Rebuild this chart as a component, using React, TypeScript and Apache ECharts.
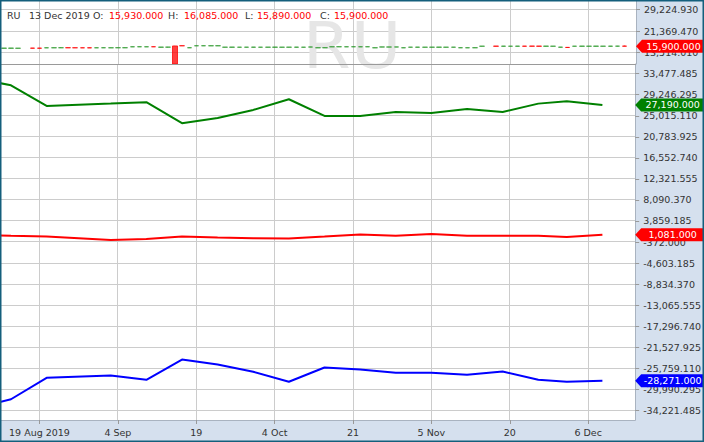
import React, { useEffect, useRef } from 'react';
import * as echarts from 'echarts';

const FONT = "'DejaVu Sans', sans-serif";
const FS = 9.5;

// x unit = trading day, 19 Aug 2019 = 0
const X_MIN = -5.4;
const X_MAX = 83.6;

const dateTickIdx = [0, 11, 22, 33, 44, 55, 66, 77];
const dateTickLabels = ['19 Aug 2019', '4 Sep', '19', '4 Oct', '21', '5 Nov', '20', '6 Dec'];

// upper pane (price) axis
const priceMin = 9385;
const priceMax = 32404;
const priceTicks = [13514.01, 21369.47, 29224.93];

// lower pane axis
const indMin = -36172;
const indMax = 35428;
const indTicks = [
  33477.485, 29246.295, 25015.11, 20783.925, 16552.74, 12321.555, 8090.37, 3859.185, -372.0,
  -4603.185, -8834.37, -13065.555, -17296.74, -21527.925, -25759.11, -29990.295, -34221.485,
];

// daily candles from day index CANDLE_START: [open, close, low, high]
const CANDLE_START = -5;
const ohlc: ([number, number, number, number] | null)[] = [
  [15140, 15190, 15110, 15220], [15150, 15200, 15120, 15230], [15120, 15170, 15090, 15200], null,
  [15200, 15160, 15130, 15230], [15190, 15150, 15120, 15220], [15280, 15320, 15250, 15350],
  [15290, 15330, 15260, 15360], [15320, 15330, 15230, 15420], [15340, 15300, 15270, 15370],
  [15330, 15290, 15260, 15360], [15320, 15280, 15250, 15350], [15310, 15270, 15240, 15340],
  [15290, 15320, 15260, 15350], [15300, 15330, 15270, 15360], [15290, 15320, 15260, 15350],
  [15300, 15340, 15270, 15370], [15310, 15340, 15280, 15370], [15650, 15690, 15620, 15720],
  [15660, 15700, 15630, 15730], [15650, 15690, 15620, 15720], [15700, 15660, 15630, 15730],
  [15520, 15560, 15490, 15590], [15540, 15550, 15450, 15640], [15990, 9400, 9400, 16020],
  [16070, 16030, 16000, 16100], [15300, 15340, 15270, 15370], [16020, 16060, 15990, 16090],
  [16030, 16070, 16000, 16100], [16020, 16060, 15990, 16090], [16030, 16070, 16000, 16100],
  [15510, 15550, 15480, 15580], [15520, 15560, 15490, 15590], [15500, 15540, 15470, 15570],
  [15510, 15550, 15480, 15580], [15520, 15560, 15490, 15590], [15500, 15540, 15470, 15570],
  [15510, 15550, 15480, 15580], [15520, 15560, 15490, 15590], [15500, 15540, 15470, 15570],
  [15510, 15550, 15480, 15580], [15520, 15560, 15490, 15590], [15500, 15540, 15470, 15570],
  [15570, 15610, 15540, 15640], [15290, 15330, 15260, 15360], [15300, 15340, 15270, 15370],
  [15650, 15690, 15620, 15720], [15660, 15700, 15630, 15730], [15650, 15690, 15620, 15720],
  [15660, 15700, 15630, 15730], [15650, 15690, 15620, 15720], [15660, 15700, 15630, 15730],
  [15290, 15330, 15260, 15360], [15580, 15620, 15550, 15650], [15570, 15610, 15540, 15640],
  [15580, 15620, 15550, 15650], [15290, 15330, 15260, 15360], [15510, 15550, 15480, 15580],
  [15520, 15560, 15490, 15590], [15500, 15540, 15470, 15570], [15510, 15550, 15480, 15580],
  [15520, 15560, 15490, 15590], [15500, 15540, 15470, 15570], [15510, 15550, 15480, 15580],
  [15300, 15340, 15270, 15370], [15290, 15330, 15260, 15360], [15300, 15340, 15270, 15370],
  [15870, 15910, 15840, 15940], null, [15920, 15880, 15850, 15950], [15880, 15920, 15850, 15950],
  [15870, 15910, 15840, 15940], [15880, 15920, 15850, 15950], [15920, 15880, 15850, 15950],
  [15930, 15890, 15860, 15960], [15920, 15880, 15850, 15950], [15880, 15920, 15850, 15950],
  [15870, 15910, 15840, 15940], [15520, 15560, 15490, 15590], [15460, 15420, 15390, 15490],
  [15870, 15910, 15840, 15940], [15880, 15920, 15850, 15950], [15870, 15910, 15840, 15940],
  [15880, 15920, 15850, 15950], [15870, 15910, 15840, 15940], [15880, 15920, 15850, 15950],
  [15900, 15910, 15820, 16000], [15930, 15900, 15890, 16085],
];

// weekly indicator lines
const weekIdx = [-9, -4, 1, 10, 15, 20, 25, 30, 35, 40, 45, 50, 55, 60, 65, 70, 74, 79];
const greenVals = [32550, 31150, 26997, 27459, 27740, 23523, 24587, 26194, 28342, 24989, 24989, 25792, 25591, 26395, 25792, 27459, 27941, 27190];
const redVals = [1100, 880, 750, 30, 230, 750, 550, 390, 350, 720, 1150, 900, 1230, 900, 890, 890, 630, 1081];
const blueVals = [-33781, -32000, -27681, -27219, -28082, -24006, -25010, -26476, -28484, -25613, -26014, -26677, -26677, -27078, -26416, -28082, -28484, -28271];

const symbolName = 'RU';
const lastDate = '13 Dec 2019';

const fmt = (v: number) =>
  Number(v).toLocaleString('en-US', { minimumFractionDigits: 3, maximumFractionDigits: 3 });

const TAG = 'path://M0,6.5L6,0L68,0L68,13L6,13Z';
const GRID_COLOR = '#cccccc';

// pane geometry (pixels)
const PLOT_LEFT = 1;
const PLOT_RIGHT = 636;
const TOP_Y0 = 1;
const TOP_Y1 = 64;
const LOW_Y1 = 420;
const W = 704;
const H = 442;

function tag(coordY: number, color: string) {
  return {
    silent: true,
    symbol: TAG,
    symbolSize: [68, 13],
    symbolOffset: [34, 0],
    symbolKeepAspect: false,
    itemStyle: { color },
    label: {
      show: true,
      position: 'inside',
      offset: [3.5, 0],
      color: '#fff',
      fontFamily: FONT,
      fontSize: FS,
      formatter: () => fmt(coordY),
    },
    data: [{ coord: [X_MAX, coordY], value: coordY }],
  };
}

const crisp = (v: number) => Math.round(v - 0.5) + 0.5;

// gridlines drawn through the axes' own scales
function vGrid(xAxisIndex: number, yAxisIndex: number, yRef: number) {
  return {
    type: 'custom',
    xAxisIndex,
    yAxisIndex,
    z: 0,
    silent: true,
    data: dateTickIdx.map((v) => [v, yRef]),
    renderItem: (params: any, api: any) => {
      const cs = params.coordSys;
      const x = crisp(api.coord([api.value(0), api.value(1)])[0]);
      return {
        type: 'line',
        shape: { x1: x, y1: cs.y, x2: x, y2: cs.y + cs.height },
        style: { stroke: GRID_COLOR, lineWidth: 1 },
      };
    },
  };
}
function hGrid(xAxisIndex: number, yAxisIndex: number, ticks: number[]) {
  return {
    type: 'custom',
    xAxisIndex,
    yAxisIndex,
    z: 0,
    silent: true,
    data: ticks.map((v) => [0, v]),
    renderItem: (params: any, api: any) => {
      const cs = params.coordSys;
      const y = crisp(api.coord([api.value(0), api.value(1)])[1]);
      return {
        type: 'line',
        shape: { x1: cs.x, y1: y, x2: cs.x + cs.width, y2: y },
        style: { stroke: GRID_COLOR, lineWidth: 1 },
      };
    },
  };
}

export default function App() {
  const ref = useRef<HTMLDivElement>(null);

  useEffect(() => {
    if (!ref.current) return;
    const chart = echarts.init(ref.current, undefined, { renderer: 'svg' });

    const candleData: number[][] = [];
    ohlc.forEach((d, i) => {
      if (d) candleData.push([CANDLE_START + i, d[0], d[1], d[2], d[3]]);
    });
    const last = ohlc[ohlc.length - 1] as [number, number, number, number];
    const pairs = (vals: number[]) => weekIdx.map((x, i) => [x, vals[i]]);

    const axisLabelY = {
      show: true,
      color: '#333',
      fontFamily: FONT,
      fontSize: FS,
      margin: 8,
      align: 'left' as const,
      formatter: (v: number) => fmt(v),
    };

    const headerItems: any[] = [];
    const hdr = (x: number, text: string, color: string) =>
      headerItems.push({
        type: 'text',
        x,
        y: 15,
        z: 6,
        silent: true,
        style: { text, fill: color, font: `${FS}px ${FONT}`, verticalAlign: 'middle', align: 'left' },
      });
    hdr(7, symbolName, '#333');
    hdr(29, lastDate, '#333');
    hdr(93, 'O:', '#333');
    hdr(109, fmt(last[0]), '#ff0000');
    hdr(168, 'H:', '#333');
    hdr(184, fmt(last[3]), '#ff0000');
    hdr(245, 'L:', '#333');
    hdr(257, fmt(last[2]), '#ff0000');
    hdr(320, 'C:', '#333');
    hdr(334, fmt(last[1]), '#ff0000');

    const right = W - PLOT_RIGHT;
    const axisLineStyle = { show: true, onZero: false, lineStyle: { color: '#a9b3c0' } };

    chart.setOption({
      animation: false,
      backgroundColor: '#ffffff',
      grid: [
        { left: PLOT_LEFT, right, top: TOP_Y0, height: TOP_Y1 - TOP_Y0 },
        { left: PLOT_LEFT, right, top: TOP_Y1, bottom: H - LOW_Y1 },
      ],
      xAxis: [
        {
          type: 'value', gridIndex: 0, min: X_MIN, max: X_MAX,
          axisLine: { show: false, onZero: false }, axisTick: { show: false }, axisLabel: { show: false }, splitLine: { show: false },
        },
        {
          type: 'value', gridIndex: 1, min: X_MIN, max: X_MAX,
          axisLine: axisLineStyle,
          axisTick: { show: true, length: 4, lineStyle: { color: '#999' }, customValues: dateTickIdx },
          axisLabel: {
            show: true,
            customValues: dateTickIdx,
            color: '#333',
            fontFamily: FONT,
            fontSize: FS,
            margin: 7,
            formatter: (v: number) => {
              const i = dateTickIdx.indexOf(v);
              return i >= 0 ? dateTickLabels[i] : '';
            },
          },
          splitLine: { show: false },
        },
      ],
      yAxis: [
        {
          type: 'value', gridIndex: 0, position: 'right', min: priceMin, max: priceMax,
          axisLine: axisLineStyle,
          axisTick: { show: true, length: 4, lineStyle: { color: '#999' }, customValues: priceTicks },
          axisLabel: { ...axisLabelY, customValues: priceTicks },
          splitLine: { show: false },
        },
        {
          type: 'value', gridIndex: 1, position: 'right', min: indMin, max: indMax,
          axisLine: axisLineStyle,
          axisTick: { show: true, length: 4, lineStyle: { color: '#999' }, customValues: indTicks },
          axisLabel: { ...axisLabelY, customValues: indTicks },
          splitLine: { show: false },
        },
      ],
      graphic: {
        elements: [
          { type: 'rect', z: -1, silent: true, shape: { x: PLOT_RIGHT, y: 0, width: W - PLOT_RIGHT, height: LOW_Y1 }, style: { fill: '#d5e0ee' } },
          { type: 'rect', z: -1, silent: true, shape: { x: 0, y: LOW_Y1, width: W, height: H - LOW_Y1 }, style: { fill: '#d5e0ee' } },
          {
            type: 'text', z: 1, silent: true, x: 352, y: 46,
            scaleX: 1.08,
            style: { text: symbolName, fill: '#e6e6e6', font: `64px ${FONT}`, align: 'center', verticalAlign: 'middle' },
          },
          { type: 'line', z: 3, silent: true, shape: { x1: 0, y1: 64.5, x2: PLOT_RIGHT, y2: 64.5 }, style: { stroke: '#9a9a9a', lineWidth: 1 } },
          ...headerItems,
          { type: 'rect', z: 10, silent: true, shape: { x: 0.75, y: 0.75, width: W - 1.5, height: H - 1.5 }, style: { fill: 'none', stroke: '#145f7c', lineWidth: 1.5 } },
        ],
      },
      series: [
        vGrid(0, 0, priceMin),
        hGrid(0, 0, priceTicks),
        vGrid(1, 1, indMin),
        hGrid(1, 1, indTicks),
        {
          type: 'candlestick',
          xAxisIndex: 0, yAxisIndex: 0,
          barWidth: 5,
          z: 2,
          itemStyle: { color: '#2e9a2e', color0: '#ff0000', borderColor: '#2e9a2e', borderColor0: '#ff0000', borderWidth: 1, opacity: 0.75 },
          data: candleData,
          markPoint: tag(last[1], '#ff0000'),
        },
        {
          type: 'line', xAxisIndex: 1, yAxisIndex: 1, showSymbol: false, z: 2,
          lineStyle: { color: '#008000', width: 2 }, itemStyle: { color: '#008000' },
          data: pairs(greenVals),
          markPoint: tag(greenVals[greenVals.length - 1], '#008000'),
        },
        {
          type: 'line', xAxisIndex: 1, yAxisIndex: 1, showSymbol: false, z: 2,
          lineStyle: { color: '#ff0000', width: 2 }, itemStyle: { color: '#ff0000' },
          data: pairs(redVals),
          markPoint: tag(redVals[redVals.length - 1], '#ff0000'),
        },
        {
          type: 'line', xAxisIndex: 1, yAxisIndex: 1, showSymbol: false, z: 2,
          lineStyle: { color: '#0000ff', width: 2 }, itemStyle: { color: '#0000ff' },
          data: pairs(blueVals),
          markPoint: tag(blueVals[blueVals.length - 1], '#0000ff'),
        },
      ],
    });

    return () => chart.dispose();
  }, []);

  return (
    <div
      ref={ref}
      style={{ position: 'fixed', left: 0, top: 0, width: W, height: H, background: '#fff' }}
    />
  );
}
